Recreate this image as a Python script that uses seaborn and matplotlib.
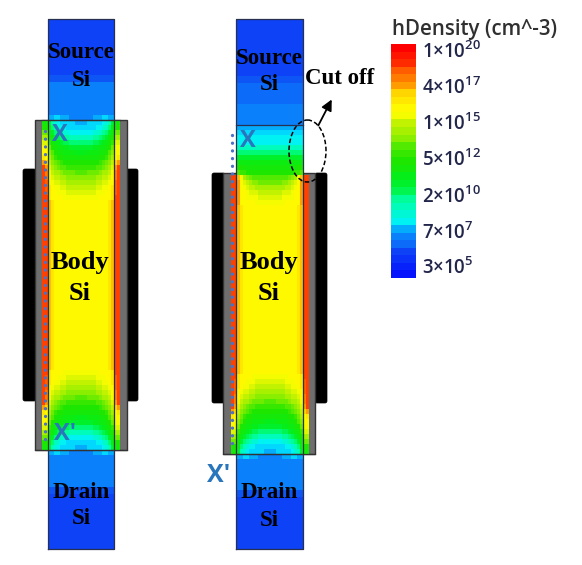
import numpy as np
import matplotlib
matplotlib.use("Agg")
import matplotlib.pyplot as plt
from matplotlib.colors import LinearSegmentedColormap
from matplotlib.patches import Rectangle, Ellipse, FancyBboxPatch
import seaborn as sns

W, H = 582, 565
n = np.nan

# log10(hDensity)
source_rows = [6.8, 6.8, 6.8, 6.8, 6.8, 6.8, 6.9, 6.9, 7.0, 7.8, 7.8, 7.8, 7.9]
source_rows_right = [6.8, 6.8, 6.8, 6.8, 6.8, 6.8, 6.9, 6.9, 7.0, 7.7, 7.7, 7.7, 7.8, 7.8, 7.9]

# half of the channel, edge of the strip -> centre, 5 px per row
body_top_left = [
    [n, n, 7.9, 7.9, 7.9, 7.9, 7.9, 7.9, 7.9, 7.9, 7.9, 7.9, 7.9],
    [n, n, 8.2, 8.4, 8.5, 8.5, 8.4, 8.3, 8.2, 8.1, 8.1, 8.1, 8.1],
    [12.5, 12.5, 11.5, 10.0, 9.3, 8.9, 8.8, 8.7, 8.6, 8.5, 8.5, 8.4, 8.4],
    [13.0, 13.0, 12.0, 10.8, 9.8, 9.3, 9.0, 8.9, 8.8, 8.7, 8.7, 8.6, 8.6],
    [14.0, 14.0, 12.5, 11.5, 10.7, 10.1, 9.7, 9.5, 9.3, 9.2, 9.1, 9.1, 9.1],
    [15.0, 15.0, 13.0, 12.0, 11.5, 11.0, 10.6, 10.3, 10.1, 10.0, 9.9, 9.8, 9.8],
    [15.8, 15.5, 13.5, 12.6, 12.2, 11.8, 11.4, 11.1, 10.9, 10.8, 10.7, 10.6, 10.6],
    [16.3, 16.0, 14.0, 13.0, 12.6, 12.3, 12.0, 11.8, 11.6, 11.5, 11.4, 11.4, 11.4],
    [16.6, 16.3, 14.6, 13.6, 13.0, 12.7, 12.5, 12.3, 12.1, 12.0, 12.0, 11.9, 11.9],
    [17.0, 16.6, 15.0, 14.2, 13.5, 13.1, 12.8, 12.7, 12.6, 12.5, 12.4, 12.4, 12.4],
    [18.0, 17.2, 15.4, 14.6, 14.0, 13.6, 13.3, 13.1, 13.0, 12.9, 12.9, 12.8, 12.8],
    [19.0, 17.8, 15.8, 15.0, 14.6, 14.2, 13.8, 13.6, 13.5, 13.4, 13.4, 13.3, 13.3],
    [19.0, 18.2, 16.2, 15.4, 15.0, 14.7, 14.4, 14.2, 14.1, 14.0, 14.0, 13.9, 13.9],
    [19.1, 18.5, 16.4, 15.8, 15.4, 15.1, 14.9, 14.7, 14.6, 14.5, 14.5, 14.4, 14.4],
    [19.1, 18.7, 16.6, 16.1, 15.8, 15.5, 15.3, 15.1, 15.0, 14.9, 14.9, 14.9, 14.9],
    [19.2, 18.8, 16.8, 16.4, 16.1, 15.9, 15.7, 15.5, 15.4, 15.3, 15.3, 15.3, 15.3],
    [19.2, 18.9, 17.0, 16.5, 16.4, 16.2, 16.0, 15.9, 15.8, 15.7, 15.7, 15.7, 15.7],
    [19.2, 19.0, 17.0, 16.6, 16.5, 16.4, 16.3, 16.2, 16.1, 16.0, 16.0, 16.0, 16.0],
]
body_top_right = [
    [n, n, 8.2, 8.2, 8.2, 8.2, 8.2, 8.2, 8.2, 8.2, 8.2, 8.2, 8.2],
    [n, n, 8.8, 8.8, 8.8, 8.8, 8.8, 8.8, 8.8, 8.8, 8.8, 8.8, 8.8],
    [n, n, 9.0, 9.0, 9.0, 9.0, 9.0, 9.0, 9.0, 9.0, 9.0, 9.0, 9.0],
    [n, n, 9.2, 9.2, 9.2, 9.2, 9.2, 9.2, 9.2, 9.2, 9.2, 9.2, 9.2],
    [n, n, 9.8, 9.8, 9.8, 9.8, 9.8, 9.8, 9.8, 9.8, 9.8, 9.8, 9.8],
    [n, n, 10.5, 10.5, 10.5, 10.5, 10.5, 10.5, 10.5, 10.5, 10.5, 10.5, 10.5],
    [n, n, 11.3, 11.3, 11.3, 11.3, 11.3, 11.3, 11.3, 11.3, 11.3, 11.3, 11.3],
    [n, n, 12.0, 12.0, 12.0, 12.0, 12.0, 12.0, 12.0, 12.0, 12.0, 12.0, 12.0],
    [n, n, 12.8, 12.8, 12.7, 12.7, 12.6, 12.6, 12.6, 12.6, 12.6, 12.6, 12.6],
    [n, n, 13.6, 13.4, 13.2, 13.1, 13.0, 13.0, 13.0, 13.0, 13.0, 13.0, 13.0],
    [19.0, 19.0, 17.6, 16.0, 15.0, 14.4, 14.0, 13.8, 13.7, 13.6, 13.6, 13.6, 13.6],
    [19.1, 19.0, 17.8, 16.4, 15.7, 15.2, 14.8, 14.5, 14.3, 14.2, 14.1, 14.1, 14.1],
    [19.2, 19.1, 17.8, 16.6, 16.1, 15.7, 15.4, 15.1, 15.0, 14.9, 14.8, 14.8, 14.8],
    [19.2, 19.1, 17.8, 16.6, 16.3, 16.0, 15.8, 15.6, 15.5, 15.4, 15.3, 15.3, 15.3],
    [19.3, 19.1, 17.8, 16.6, 16.4, 16.2, 16.1, 16.0, 15.9, 15.8, 15.8, 15.8, 15.8],
    [19.3, 19.1, 17.8, 16.6, 16.4, 16.4, 16.3, 16.3, 16.2, 16.1, 16.1, 16.1, 16.1],
]
body_mid = [19.3, 19.0, 17.6, 16.7, 16.5, 16.4, 16.4, 16.4, 16.4, 16.4, 16.4, 16.4, 16.4]

# colour bar bands, top to bottom
bar_levels = [20.4, 19.9, 19.4, 18.9, 18.4, 17.9, 17.4, 16.9, 16.4, 15.9, 15.4,
              14.9, 14.4, 13.9, 13.4, 12.9, 12.4, 11.9, 11.4, 10.9, 10.4, 9.9,
              9.4, 8.9, 8.4, 7.9, 7.4, 6.9, 6.4, 5.9, 5.4]
bar_labels = ["20", "17", "15", "12", "10", "7", "5"]
bar_mantissa = ["1", "4", "1", "5", "2", "7", "3"]

stops = [(5.0, (0, 0, 255)), (6.8, (15, 75, 245)), (7.8, (10, 130, 250)),
         (8.8, (0, 240, 255)), (10.0, (0, 255, 170)), (11.5, (0, 240, 30)),
         (13.0, (30, 230, 0)), (14.0, (100, 235, 0)), (15.0, (170, 240, 0)),
         (16.0, (240, 250, 0)), (16.4, (255, 255, 0)), (17.6, (255, 200, 0)),
         (18.3, (255, 140, 0)), (19.2, (255, 70, 0)), (20.5, (255, 0, 0))]
vmin, vmax = stops[0][0], stops[-1][0]
cmap = LinearSegmentedColormap.from_list(
    "hdens",
    [((v - vmin) / (vmax - vmin), tuple(c / 255 for c in rgb)) for v, rgb in stops],
    N=40)

fig = plt.figure(figsize=(W / 100, H / 100), dpi=100, facecolor="white")


def pixel_axes(x0, y0, x1, y1, z=1):
    ax = fig.add_axes([x0 / W, 1 - y1 / H, (x1 - x0) / W, (y1 - y0) / H], zorder=z)
    ax.set_axis_off()
    return ax


def field(data, x0, y0, x1, y1):
    ax = pixel_axes(x0, y0, x1, y1, z=2)
    sns.heatmap(np.asarray(data, dtype=float), ax=ax, cmap=cmap, vmin=vmin, vmax=vmax,
                cbar=False, xticklabels=False, yticklabels=False)
    ax.set_axis_off()
    return ax


def mirror(half):
    half = np.atleast_2d(half)
    return np.hstack([half, half[:, ::-1]])


under = pixel_axes(0, 0, W, H, z=1)
under.set_xlim(0, W)
under.set_ylim(H, 0)
over = pixel_axes(0, 0, W, H, z=3)
over.set_xlim(0, W)
over.set_ylim(H, 0)


def gate(x0, x1, y0, y1):
    under.add_patch(FancyBboxPatch((x0, y0), x1 - x0, y1 - y0, boxstyle="round,pad=0,rounding_size=2",
                                   fc="black", ec="black", lw=0.5))


# left device
gate(23, 36, 169, 401)
gate(126, 138, 169, 401)
under.add_patch(Rectangle((35, 120), 92, 330, fc="#6e6e6e", ec="#333333", lw=1))
field(np.array(source_rows)[:, None], 47.5, 19, 114, 110)
field(mirror(body_top_left), 42, 110, 120, 200)
field(mirror(body_mid), 42, 200, 120, 370)
field(mirror(body_top_left)[::-1], 42, 370, 120, 460)
field(np.array(source_rows)[::-1, None], 47.5, 460, 114, 549)

# right device
gate(212, 225, 173, 403)
gate(315, 327, 173, 403)
under.add_patch(Rectangle((223, 173), 92, 281, fc="#6e6e6e", ec="#333333", lw=1))
field(np.array(source_rows_right)[:, None], 236, 19, 303, 125)
field(mirror(body_top_right), 230.5, 125, 308.5, 205)
field(mirror(body_mid), 230.5, 205, 308.5, 374)
field(mirror(body_top_left)[::-1], 230.5, 374, 308.5, 464)
field(np.array(source_rows)[::-1, None], 236, 464, 303, 549)

# outlines
line = dict(color="#27314f", lw=0.9)
for x0, x1, yt, yj1, yj2, yb in [(47.5, 114, 19, 120, 450, 549), (236, 303, 19, 125, 454, 549)]:
    over.plot([x0, x0, x1, x1, x0], [yb, yt, yt, yb, yb], **line)
    over.plot([x0, x1], [yj1, yj1], **line)
    over.plot([x0, x1], [yj2, yj2], **line)
over.plot([42, 120], [120, 120], color="#333333", lw=0.9)
over.plot([35, 127], [450, 450], color="#333333", lw=0.9)
over.plot([223, 315], [454, 454], color="#333333", lw=0.9)

# cut line dots
dot = dict(color="#4a72c8", ls=(0, (0.01, 2.3)), lw=2.4, dash_capstyle="round")
over.plot([45, 45], [131, 440], **dot)
over.plot([232, 232], [135, 450], **dot)

serif = dict(family="Liberation Serif", weight="bold", ha="center", va="center", color="black")
for cx, cy1, cy2, cy3, cy4 in [(81, 53, 81, 492, 519), (269, 58, 85, 492, 520)]:
    over.text(cx, cy1, "Source", fontsize=16.5, **serif)
    over.text(cx, cy2, "Si", fontsize=16.5, **serif)
    over.text(cx, cy3, "Drain", fontsize=16.5, **serif)
    over.text(cx, cy4, "Si", fontsize=16.5, **serif)
for cx in [80, 269]:
    over.text(cx, 263, "Body", fontsize=19, **serif)
    over.text(cx, 294, "Si", fontsize=19, **serif)
over.text(340, 79, "Cut off", fontsize=16.5, **serif)

blue = dict(family="Open Sans", weight="bold", color="#2a76bd", ha="center", va="center")
over.text(60, 135, "X", fontsize=17, **blue)
over.text(65, 434, "X\u2032", fontsize=17, **blue)
over.text(248, 141, "X", fontsize=17, **blue)
over.text(219, 475, "X\u2032", fontsize=18, **blue)

# cut off marker
over.add_patch(Ellipse((307.5, 151), 37, 62, fill=False, ec="black", lw=1.1, ls=(0, (3, 1.6))))
over.annotate("", xy=(333, 97), xytext=(317, 128),
              arrowprops=dict(arrowstyle="-|>", color="black", lw=1.3, mutation_scale=16))

# colour bar
field(np.array(bar_levels)[:, None], 391, 44, 416, 278)
over.text(392, 29, "hDensity (cm^-3)", family="Open Sans", weight="semibold", fontsize=14.8,
          color="#303030", ha="left", va="center")
plt.rcParams["mathtext.fontset"] = "custom"
plt.rcParams["mathtext.rm"] = "Open Sans"
plt.rcParams["mathtext.default"] = "regular"
for m, e, y in zip(bar_mantissa, bar_labels, [52, 88, 124, 160, 197, 233, 268]):
    over.text(422, y, rf"{m}$\times$10$^{{{e}}}$", family="Open Sans", weight="semibold",
              fontsize=13.4, color="#22264a", ha="left", va="center")

fig.savefig("out.png", dpi=100)
